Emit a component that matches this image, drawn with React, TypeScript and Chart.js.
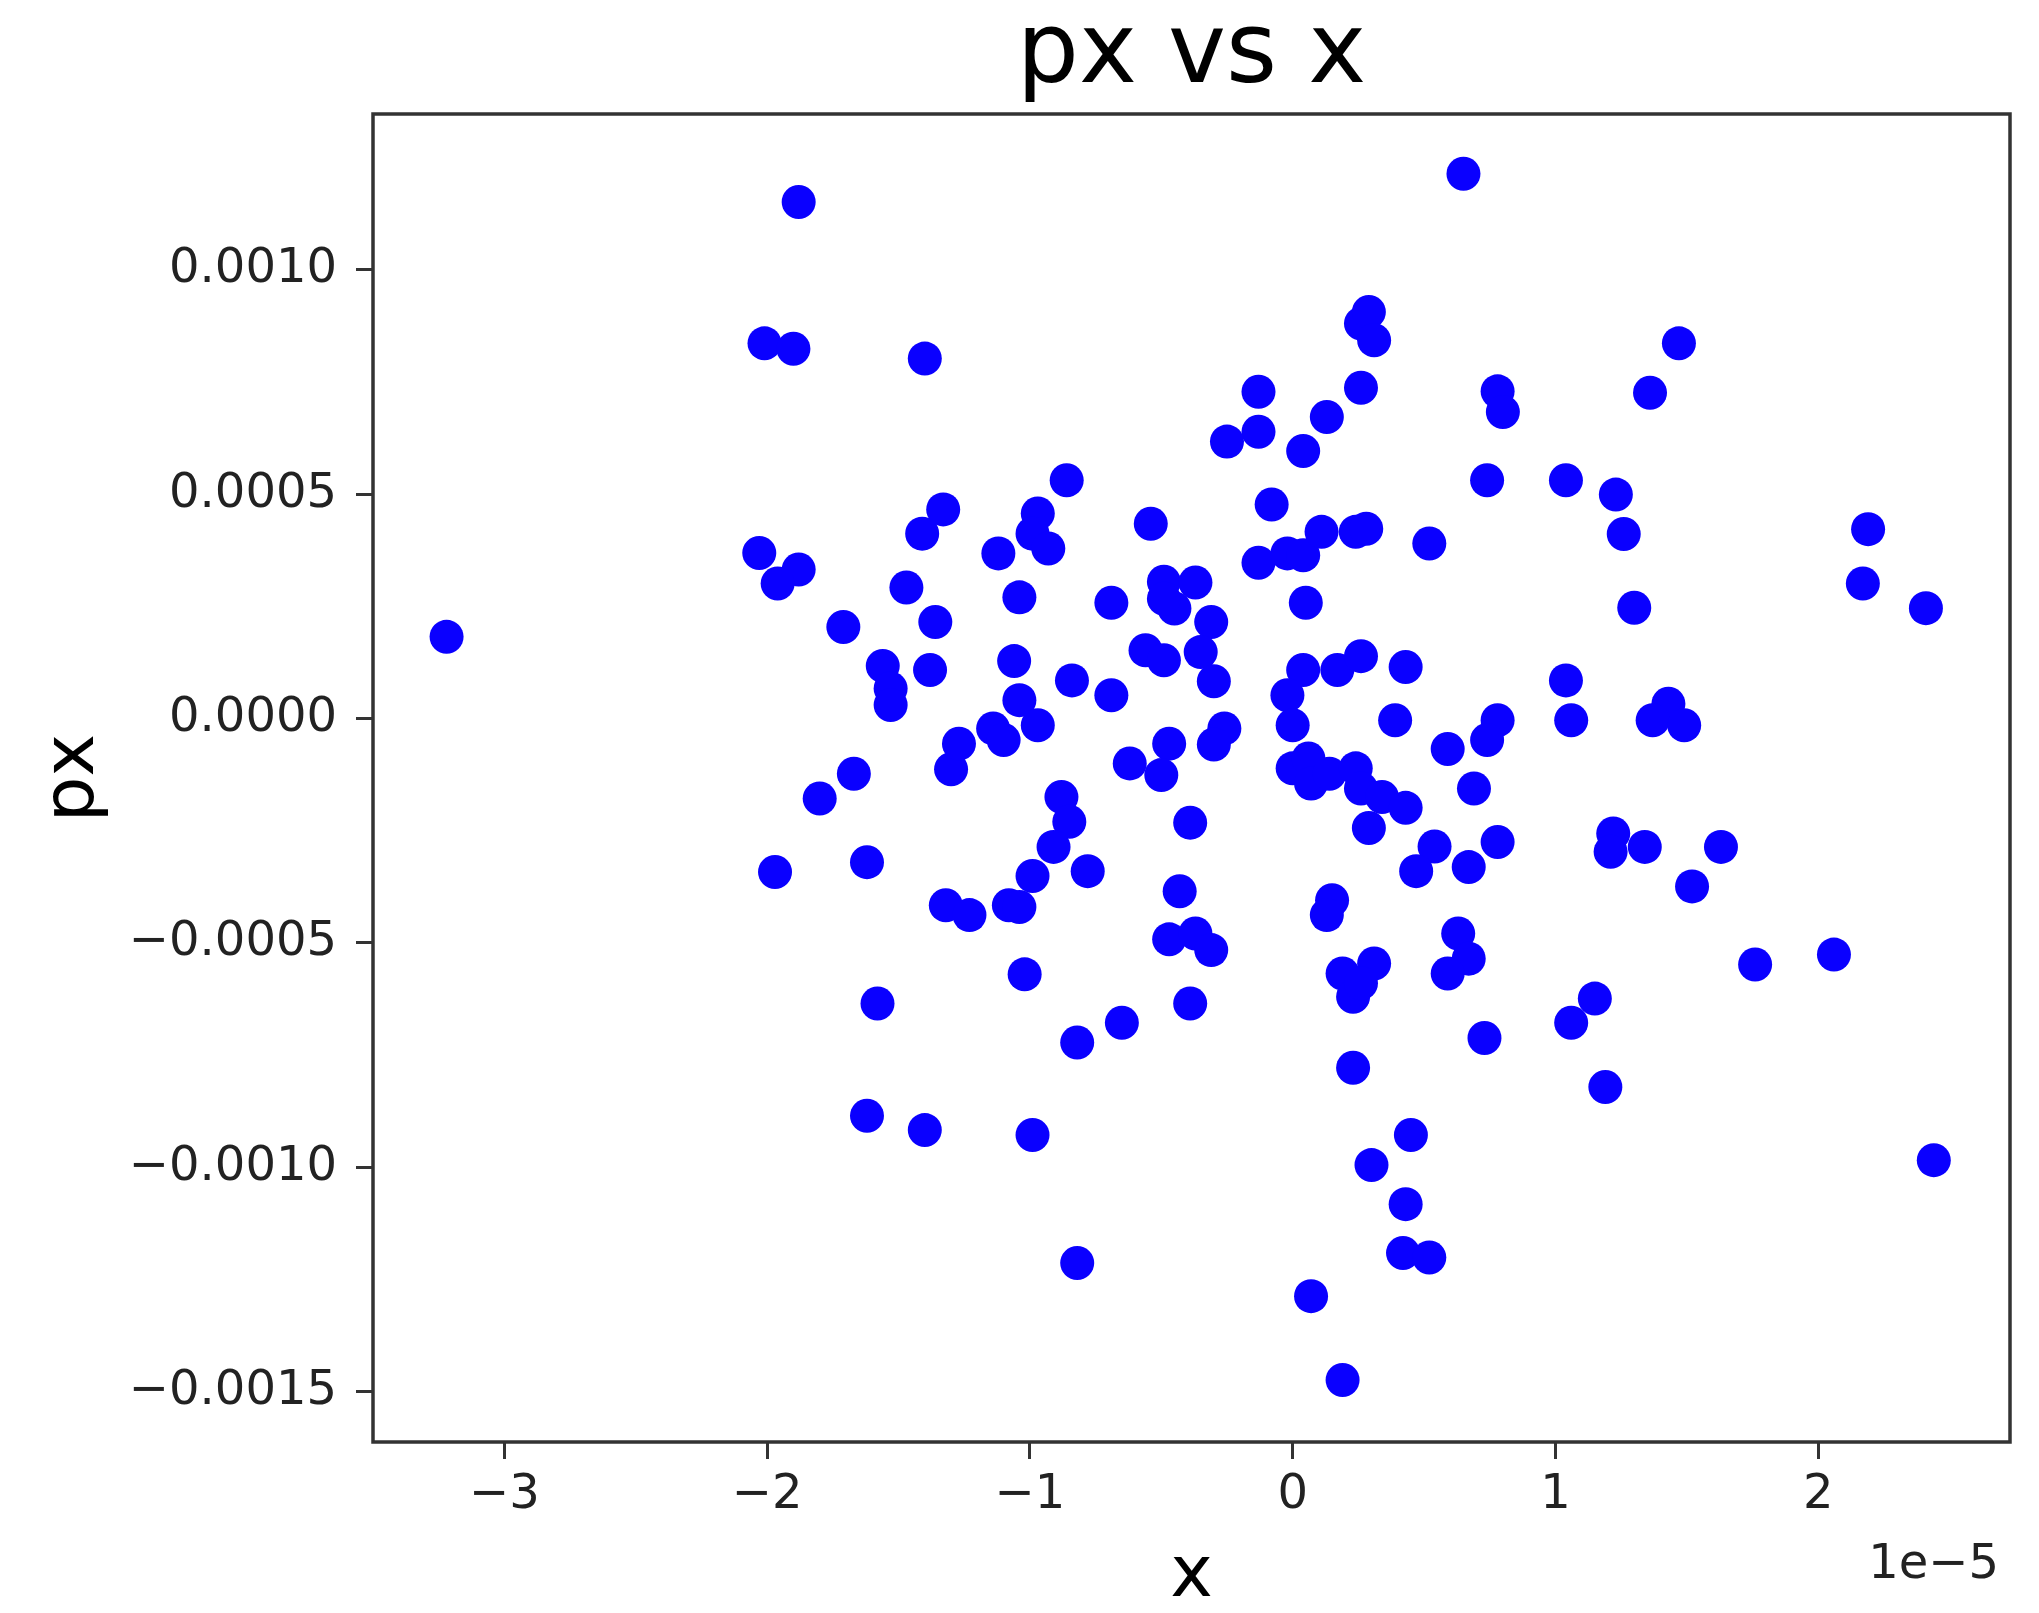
import React, { useEffect, useRef } from 'react';
import { Chart, registerables } from 'chart.js';

Chart.register(...registerables);

// ---- data (x in units of 1e-5, px in units of 1e-4) ----
const X_UNIT = 1e-5;
const PX_UNIT = 1e-4;

const xValues = [
  -3.22, -2.01, -1.90, -1.88, -1.40, -1.33, -1.41, -2.03, -1.88, -1.96,
  -1.47, 0.65, 0.26, 0.29, 0.31, -0.13, 0.26, 0.13, -0.13, -0.25,
  0.04, -0.86, -0.08, -0.97, -0.99, -0.93, -1.12, -0.54, -0.13, -0.02,
  0.04, 0.11, 0.24, 0.28, 0.52, -0.49, -0.37, -0.45, -0.49, 1.47,
  0.78, 0.80, 1.36, 0.74, 1.04, 1.23, 1.26, 2.19, 2.17, -1.36,
  -1.71, -1.56, -1.53, -1.53, -1.38, -1.67, -1.80, -1.30, -1.97, -1.62,
  -1.32, -1.23, -1.04, -0.69, 0.05, -0.31, -0.56, -0.49, -0.35, -0.30,
  -1.06, -0.84, -0.69, -1.04, -0.97, -1.14, -1.10, -1.27, 0.04, 0.17,
  0.26, 0.43, -0.02, 0.00, 0.39, 0.59, -0.26, -0.30, -0.47, -0.62,
  -0.50, 0.00, 0.06, 0.07, 0.14, 0.24, 0.26, 0.34, 0.43, 0.29,
  -0.39, -0.88, -0.85, -0.91, -0.99, -0.78, -1.08, -1.04, -0.43, -0.47,
  -0.37, -0.31, -1.02, 0.54, 0.47, 0.15, 0.13, 0.19, 0.31, 0.63,
  1.04, 1.06, 1.43, 1.37, 1.49, 0.78, 0.74, 0.69, 0.78, 0.67,
  1.22, 1.21, 1.34, 1.63, 1.52, 0.67, 0.59, 1.76, 2.06, 1.15,
  2.41, 1.30, -1.58, -1.62, -1.40, -0.82, -0.65, -0.39, 0.23, 0.26,
  0.23, -0.99, 0.45, 0.30, 0.43, 0.42, 0.52, -0.82, 0.07, 0.19,
  1.06, 0.73, 1.19, 2.44,
];

const pxValues = [
  1.82, 8.36, 8.24, 11.51, 8.02, 4.66, 4.12, 3.69, 3.32, 3.01,
  2.92, 12.14, 8.80, 9.06, 8.43, 7.28, 7.37, 6.72, 6.39, 6.17,
  5.96, 5.31, 4.77, 4.57, 4.12, 3.79, 3.68, 4.34, 3.47, 3.68,
  3.64, 4.16, 4.16, 4.23, 3.90, 3.05, 3.03, 2.45, 2.67, 8.36,
  7.29, 6.83, 7.26, 5.31, 5.31, 4.99, 4.11, 4.22, 3.01, 2.15,
  2.04, 1.17, 0.67, 0.30, 1.08, -1.23, -1.78, -1.13, -3.42, -3.20,
  -4.16, -4.38, 2.70, 2.58, 2.58, 2.15, 1.52, 1.30, 1.48, 0.83,
  1.28, 0.85, 0.52, 0.41, -0.15, -0.22, -0.48, -0.56, 1.08, 1.08,
  1.39, 1.15, 0.52, -0.15, -0.04, -0.68, -0.22, -0.58, -0.56, -1.00,
  -1.26, -1.11, -0.89, -1.45, -1.23, -1.11, -1.56, -1.75, -1.99, -2.44,
  -2.32, -1.75, -2.30, -2.86, -3.51, -3.40, -4.16, -4.20, -3.85, -4.92,
  -4.79, -5.16, -5.70, -2.85, -3.40, -4.05, -4.38, -5.68, -5.46, -4.79,
  0.85, -0.04, 0.33, -0.04, -0.15, -0.04, -0.48, -1.56, -2.75, -3.31,
  -2.56, -2.97, -2.86, -2.86, -3.74, -5.35, -5.68, -5.48, -5.26, -6.24,
  2.46, 2.47, -6.35, -8.85, -9.17, -7.22, -6.78, -6.35, -6.20, -5.90,
  -7.78, -9.28, -9.28, -9.95, -10.82, -11.91, -12.01, -12.13, -12.87, -14.74,
  -6.78, -7.12, -8.21, -9.84,
];

const xTicks = [-3, -2, -1, 0, 1, 2];
const xTickLabels = ['\u22123', '\u22122', '\u22121', '0', '1', '2'];
const yTicks = [10, 5, 0, -5, -10, -15];
const yTickLabels = ['0.0010', '0.0005', '0.0000', '\u22120.0005', '\u22120.0010', '\u22120.0015'];

const X_MIN = -3.5;
const X_MAX = 2.73;
const Y_MIN = -16.12;
const Y_MAX = 13.47;

const TITLE = 'px vs x';
const X_LABEL = 'x';
const Y_LABEL = 'px';
const X_OFFSET_TEXT = '1e\u22125';

const FONT = "'DejaVu Sans', sans-serif";
const W = 2039;
const H = 1613;

const framePlugin = {
  id: 'frame',
  afterDatasetsDraw(chart: any) {
    const { ctx, chartArea } = chart;
    const { left, top, right, bottom } = chartArea;
    ctx.save();
    ctx.strokeStyle = '#333333';
    ctx.lineWidth = 3.5;
    ctx.strokeRect(left, top, right - left, bottom - top);
    ctx.restore();
  },
};

const offsetTextPlugin = {
  id: 'offsetText',
  afterDraw(chart: any) {
    const { ctx, chartArea } = chart;
    ctx.save();
    ctx.font = `48px ${FONT}`;
    ctx.fillStyle = '#222222';
    ctx.textAlign = 'right';
    ctx.textBaseline = 'alphabetic';
    ctx.fillText(X_OFFSET_TEXT, chartArea.right - 11, chartArea.bottom + 136);
    ctx.restore();
  },
};

export default function App() {
  const canvasRef = useRef<HTMLCanvasElement | null>(null);

  useEffect(() => {
    const canvas = canvasRef.current;
    if (!canvas) return;
    const points = xValues.map((x, i) => ({ x: x * X_UNIT, y: pxValues[i] * PX_UNIT }));

    const chart = new Chart(canvas, {
      type: 'scatter',
      data: {
        datasets: [
          {
            data: points,
            backgroundColor: '#0a00ff',
            borderWidth: 0,
            pointRadius: 17,
            pointHoverRadius: 17,
          },
        ],
      },
      options: {
        responsive: false,
        animation: false,
        devicePixelRatio: 1,
        events: [],
        layout: { padding: { left: 0, right: 29, top: 0, bottom: 0 } },
        plugins: {
          legend: { display: false },
          tooltip: { enabled: false },
          title: {
            display: true,
            text: TITLE,
            fullSize: false,
            color: '#000000',
            font: { family: FONT, size: 98, weight: 'normal', lineHeight: 1 },
            padding: { top: 8, bottom: 8 },
          },
        },
        scales: {
          x: {
            type: 'linear',
            position: 'bottom',
            min: X_MIN * X_UNIT,
            max: X_MAX * X_UNIT,
            afterFit: (s: any) => {
              s.height = 171;
            },
            afterBuildTicks: (s: any) => {
              s.ticks = xTicks.map((v) => ({ value: v * X_UNIT }));
            },
            ticks: {
              autoSkip: false,
              maxRotation: 0,
              padding: 8,
              color: '#222222',
              font: { family: FONT, size: 48 },
              callback: (_v: any, i: number) => xTickLabels[i],
            },
            grid: {
              display: true,
              drawOnChartArea: false,
              drawTicks: true,
              tickLength: 17,
              tickWidth: 3,
              tickColor: '#333333',
            },
            border: { display: false },
            title: {
              display: true,
              text: X_LABEL,
              color: '#000000',
              font: { family: FONT, size: 72, lineHeight: 1 },
              padding: { top: 1, bottom: 0 },
            },
          },
          y: {
            type: 'linear',
            position: 'left',
            min: Y_MIN * PX_UNIT,
            max: Y_MAX * PX_UNIT,
            afterFit: (s: any) => {
              s.width = 373;
            },
            afterBuildTicks: (s: any) => {
              s.ticks = yTicks.map((v) => ({ value: v * PX_UNIT }));
            },
            ticks: {
              autoSkip: false,
              padding: 19,
              color: '#222222',
              font: { family: FONT, size: 48 },
              callback: (_v: any, i: number) => yTickLabels[i],
            },
            grid: {
              display: true,
              drawOnChartArea: false,
              drawTicks: true,
              tickLength: 17,
              tickWidth: 3,
              tickColor: '#333333',
            },
            border: { display: false },
            title: {
              display: true,
              text: Y_LABEL,
              color: '#000000',
              font: { family: FONT, size: 72, lineHeight: 1 },
              padding: { top: 38, bottom: 0 },
            },
          },
        },
      },
      plugins: [framePlugin, offsetTextPlugin],
    } as any);

    return () => {
      chart.destroy();
    };
  }, []);

  return (
    <div style={{ position: 'fixed', left: 0, top: 0, width: W, height: H, background: '#ffffff' }}>
      <canvas ref={canvasRef} width={W} height={H} style={{ display: 'block', width: W, height: H }} />
    </div>
  );
}
